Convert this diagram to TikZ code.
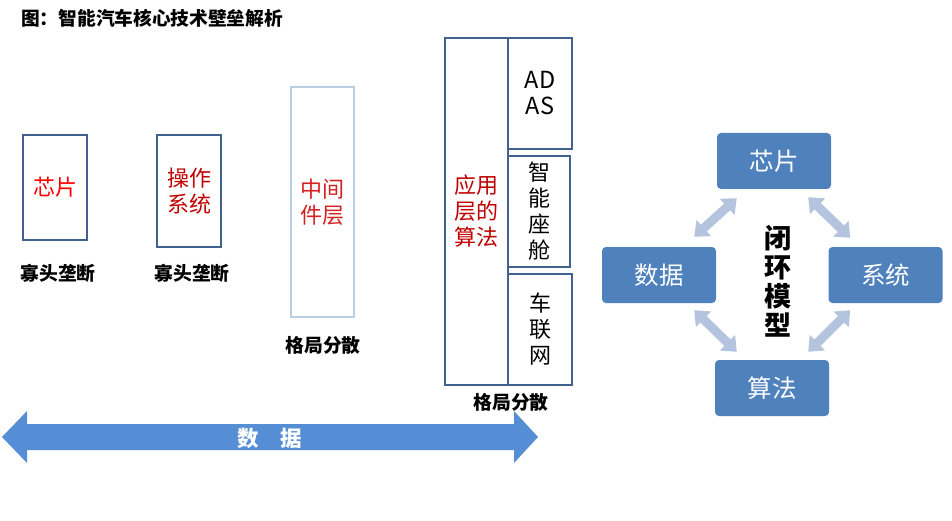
\documentclass[tikz,border=0pt]{standalone}
\usepackage{fontspec}
\setmainfont{Noto Sans CJK SC}
\usetikzlibrary{arrows.meta}
\definecolor{frameblue}{HTML}{41618F}
\definecolor{paleblue}{HTML}{B9CDE5}
\definecolor{darkred}{HTML}{C00000}
\definecolor{midred}{HTML}{D42020}
\definecolor{boxblue}{HTML}{4F81BD}
\definecolor{arrowblue}{HTML}{558ED5}
\definecolor{linkblue}{HTML}{B4C4DE}

\begin{document}
\begin{tikzpicture}[x=1pt,y=-1pt,
  frame/.style={draw=frameblue,line width=2.6pt,inner sep=0pt,align=center,font=\fontsize{22}{26}\selectfont},
  tag/.style={inner sep=0pt,font=\fontsize{18.8}{20}\selectfont\bfseries},
  loopbox/.style={fill=boxblue,rounded corners=4pt,minimum width=114pt,minimum height=56pt,text=white,font=\fontsize{24.5}{26}\selectfont},
  link/.style={linkblue,line width=9pt,{Triangle[width=21pt,length=13pt]}-{Triangle[width=21pt,length=13pt]}}]
\useasboundingbox (0,0) rectangle (952,521);
\node[anchor=west,inner sep=0pt,font=\fontsize{18.7}{20}\selectfont\bfseries] (title) at (21,18) {图：智能汽车核心技术壁垒解析};

\node[frame,minimum width=64pt,minimum height=105pt,text=red] (chipbox) at (55,187.5) {芯片};
\node[frame,minimum width=64pt,minimum height=112pt,text=darkred] (osbox) at (189,191) {操作\\系统};
\node[frame,draw=paleblue,minimum width=63pt,minimum height=230pt,text=midred] (midbox) at (322.5,202) {中间\\件层};
\node[frame,minimum width=63pt,minimum height=347pt,text=darkred] (appbox) at (476.5,211.5) {应用\\层的\\算法};
\node[frame,minimum width=64pt,minimum height=111pt,font=\fontsize{23.5}{26}\selectfont] (adas) at (540,93.5) {AD\\AS};
\node[frame,minimum width=62pt,minimum height=111pt] (cabin) at (539,211.5) {智\\能\\座\\舱};
\node[frame,minimum width=64pt,minimum height=111pt] (iov) at (540,329.5) {车\\联\\网};

\node[tag] (mono1) at (58,273) {寡头垄断};
\node[tag] (mono2) at (192,273) {寡头垄断};
\node[tag] (spread1) at (323,345) {格局分散};
\node[tag] (spread2) at (511,402) {格局分散};

\fill[arrowblue] (2,437) -- (27,411) -- (27,424) -- (514,424) -- (514,411) -- (538,437)
-- (514,463) -- (514,450) -- (27,450) -- (27,463) -- cycle;
\node[white,inner sep=0pt,font=\fontsize{21.5}{22}\selectfont\bfseries] (flow) at (270,438) {数\hspace{1em}据};

\node[loopbox] (chip) at (774,161) {芯片};
\node[loopbox] (data) at (659,275) {数据};
\node[loopbox] (sys) at (885.5,275) {系统};
\node[loopbox] (algo) at (772,388) {算法};
\node[align=center,inner sep=0pt,font=\fontsize{27}{29}\selectfont\bfseries] (loop) at (778,281) {闭\\环\\模\\型};

\draw[link] ([shift={(20,9)}]chip.south west) -- ([shift={(-22,-10)}]data.north east);
\draw[link] ([shift={(-23,8)}]chip.south east) -- ([shift={(22,-9)}]sys.north west);
\draw[link] ([shift={(-22,7)}]data.south east) -- ([shift={(22,-8)}]algo.north west);
\draw[link] ([shift={(22,7)}]sys.south west) -- ([shift={(-21,-8)}]algo.north east);
\end{tikzpicture}
\end{document}
